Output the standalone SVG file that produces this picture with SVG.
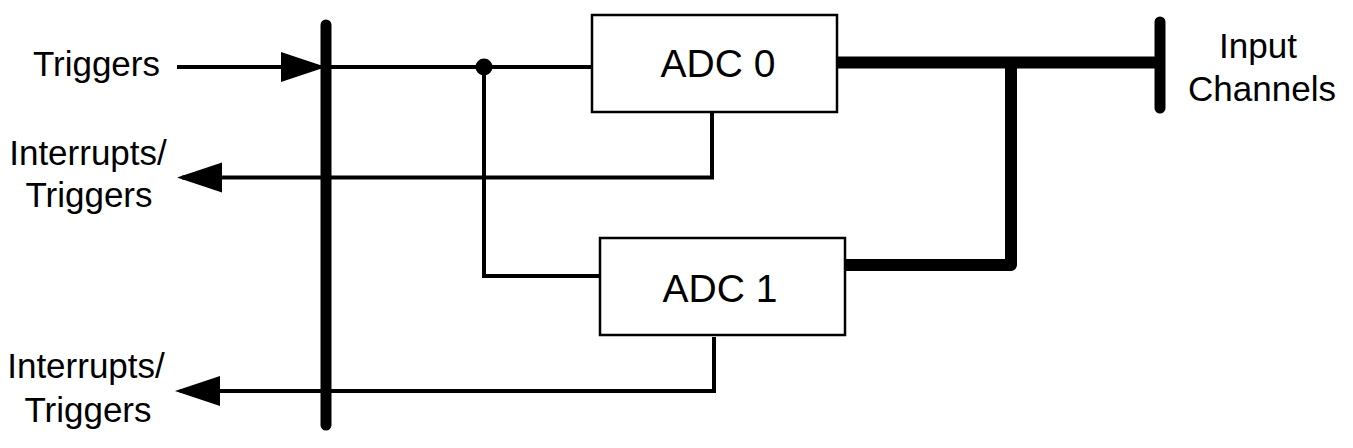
<svg xmlns="http://www.w3.org/2000/svg" width="1353" height="448" viewBox="0 0 1353 448">
<style>
.lbl{font-family:"Liberation Sans",Arial,sans-serif;font-size:35px;fill:#000}
.adc{font-family:"Liberation Sans",Arial,sans-serif;font-size:39px;fill:#000;text-anchor:middle}
.box{fill:#fff;stroke:#000;stroke-width:2.5}
.thin{fill:none;stroke:#000;stroke-width:4;stroke-linejoin:miter}
.thick{fill:none;stroke:#000;stroke-width:12;stroke-linejoin:round}
.bus{fill:none;stroke:#000;stroke-width:11;stroke-linecap:round}
.head{fill:#000}
</style>
<rect width="1353" height="448" fill="#fff"/>
<g id="connectors">
<path class="thin" d="M177,67 H592"/>
<polygon class="head" points="281,52 326,67 281,82"/>
<path class="thin" d="M484,67 V276 H600"/>
<circle cx="484" cy="67" r="8.5" fill="#000"/>
<path class="thin" d="M712,112 V177.5 H182"/>
<polygon class="head" points="177,177.5 222,162.5 222,192.5"/>
<path class="thin" d="M714,337 V391 H180"/>
<polygon class="head" points="175,391 220,376 220,406"/>
<path class="thick" d="M837,62.5 H1160"/>
<path class="thick" d="M845,265 H1011 V62.5"/>
</g>
<g id="bus">
<line class="bus" x1="326" y1="25" x2="326" y2="425"/>
</g>
<g id="input-bar">
<line class="bus" x1="1160" y1="22" x2="1160" y2="108"/>
</g>
<g id="adc0">
<rect class="box" x="592" y="15" width="245" height="97"/>
<text class="adc" x="718" y="77">ADC 0</text>
</g>
<g id="adc1">
<rect class="box" x="600" y="238" width="245" height="97"/>
<text class="adc" x="720" y="302">ADC 1</text>
</g>
<g id="label-triggers">
<text class="lbl" x="160" y="76" text-anchor="end">Triggers</text>
</g>
<g id="label-int0">
<text class="lbl" x="88" y="165" text-anchor="middle">Interrupts/</text>
<text class="lbl" x="89" y="207" text-anchor="middle">Triggers</text>
</g>
<g id="label-int1">
<text class="lbl" x="86" y="378" text-anchor="middle">Interrupts/</text>
<text class="lbl" x="88" y="422" text-anchor="middle">Triggers</text>
</g>
<g id="label-input">
<text class="lbl" x="1258" y="58" text-anchor="middle">Input</text>
<text class="lbl" x="1262" y="101" text-anchor="middle">Channels</text>
</g>
</svg>
